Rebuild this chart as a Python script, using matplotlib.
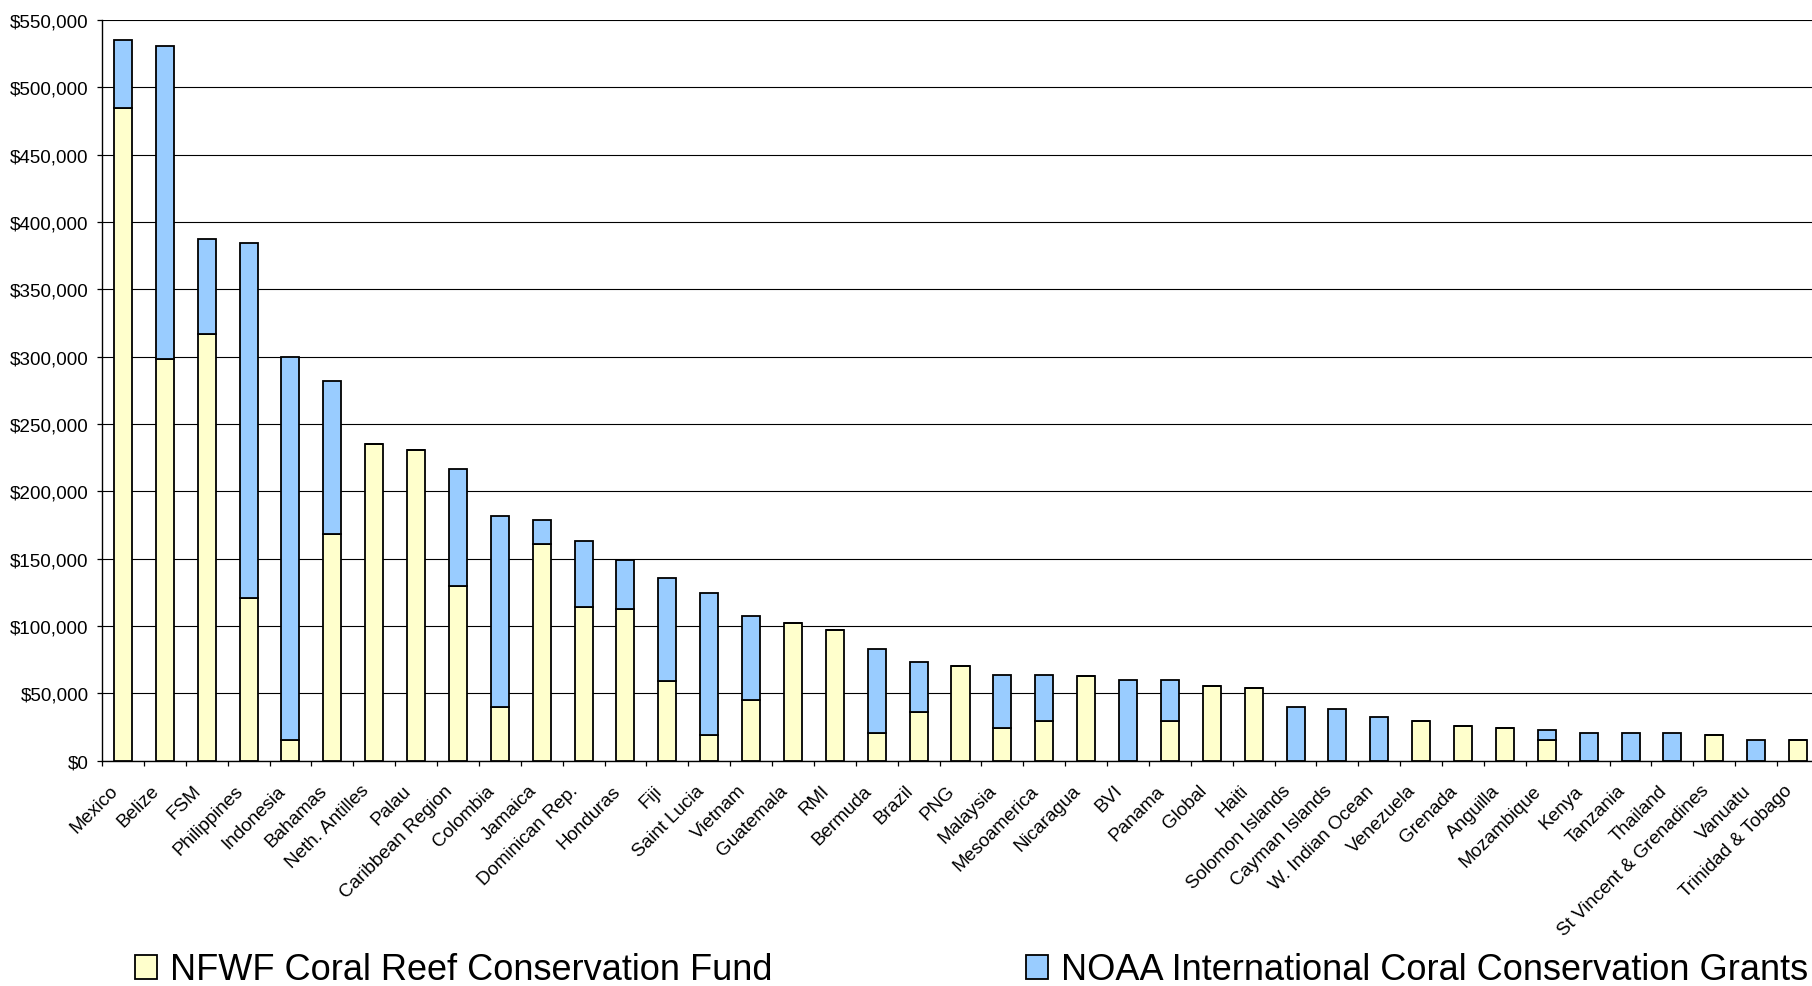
import matplotlib
matplotlib.use("Agg")
import matplotlib.pyplot as plt
from matplotlib.patches import Patch
from matplotlib.ticker import FuncFormatter, FixedLocator
from matplotlib.transforms import ScaledTranslation
import numpy as np

plt.rcParams["font.family"] = ["Liberation Sans", "DejaVu Sans"]

categories = [
    "Mexico", "Belize", "FSM", "Philippines", "Indonesia", "Bahamas",
    "Neth. Antilles", "Palau", "Caribbean Region", "Colombia", "Jamaica",
    "Dominican Rep.", "Honduras", "Fiji", "Saint Lucia", "Vietnam",
    "Guatemala", "RMI", "Bermuda", "Brazil", "PNG", "Malaysia",
    "Mesoamerica", "Nicaragua", "BVI", "Panama", "Global", "Haiti",
    "Solomon Islands", "Cayman Islands", "W. Indian Ocean", "Venezuela",
    "Grenada", "Anguilla", "Mozambique", "Kenya", "Tanzania", "Thailand",
    "St Vincent & Grenadines", "Vanuatu", "Trinidad & Tobago",
]

nfwf = [
    485000, 298000, 317000, 121000, 15400, 168000,
    235000, 231000, 129500, 39700, 161000,
    114000, 113000, 59000, 19100, 44800,
    102400, 97200, 20500, 35900, 70500, 24500,
    29500, 62900, 0, 29500, 55200, 54000,
    0, 0, 0, 29500,
    25800, 24500, 15100, 0, 0, 0,
    19300, 0, 15400,
]

noaa = [
    50000, 233000, 70600, 263600, 284600, 114300,
    0, 0, 87200, 142300, 18000,
    48800, 35900, 76700, 105200, 62800,
    0, 0, 62600, 37100, 0, 39300,
    34300, 0, 60100, 30600, 0, 0,
    39600, 38600, 32200, 0,
    0, 0, 7900, 20600, 20600, 20600,
    0, 15400, 0,
]

series_labels = ["NFWF Coral Reef Conservation Fund",
                 "NOAA International Coral Conservation Grants"]
yellow = "#FFFFCC"
blue = "#99CCFF"

W, H = 1812, 987
fig = plt.figure(figsize=(W / 100, H / 100), dpi=100)
ax = fig.add_axes([102 / W, (H - 761.7) / H, (1819 - 102) / W, (761.7 - 21) / H])

x = np.arange(len(categories))
bw = 0.43
ax.bar(x, nfwf, width=bw, color=yellow, edgecolor="black", linewidth=1.3, zorder=3)
ax.bar(x, noaa, width=bw, bottom=nfwf, color=blue, edgecolor="black", linewidth=1.3, zorder=3)

ax.set_xlim(-0.5, len(categories) - 0.5)
ax.set_ylim(0, 550000)

# y axis: $ formatted ticks every 50,000 with horizontal gridlines
ax.set_yticks(np.arange(0, 550001, 50000))
ax.yaxis.set_major_formatter(FuncFormatter(lambda v, p: "${:,.0f}".format(v)))
ax.yaxis.grid(True, color="black", linewidth=0.8, zorder=0)
ax.tick_params(axis="y", direction="out", length=3.6, width=0.9, pad=6.0, labelsize=13.6)

# x axis: labels at category centres, tick marks at category boundaries
ax.set_xticks(x)
ax.set_xticklabels(categories, rotation=45, ha="right", va="center",
                   rotation_mode="anchor", fontsize=13.6)
ax.xaxis.set_minor_locator(FixedLocator(np.arange(-0.5, len(categories), 1.0)))
ax.tick_params(axis="x", which="major", length=0, pad=19.5)
ax.tick_params(axis="x", which="minor", direction="out", length=3.6, width=0.9)
shift = ScaledTranslation(-8 / 100, 0, fig.dpi_scale_trans)
for lab in ax.get_xticklabels():
    lab.set_transform(lab.get_transform() + shift)

for side in ("top", "right"):
    ax.spines[side].set_visible(False)
for side in ("left", "bottom"):
    ax.spines[side].set_color("black")
    ax.spines[side].set_linewidth(1.0)
ax.set_axisbelow(True)

# legend: two entries spread across the bottom
leg_kw = dict(frameon=False, fontsize=26, handlelength=0.62, handleheight=0.64,
              handletextpad=0.36, borderpad=0, borderaxespad=0, loc="center left")
h1 = Patch(facecolor=yellow, edgecolor="black", linewidth=1.3)
h2 = Patch(facecolor=blue, edgecolor="black", linewidth=1.3)
fig.legend([h1], [series_labels[0]], bbox_to_anchor=(135 / W, 16 / H), **leg_kw)
fig.legend([h2], [series_labels[1]], bbox_to_anchor=(1026 / W, 16 / H), **leg_kw)

fig.savefig("out.png", dpi=100)
